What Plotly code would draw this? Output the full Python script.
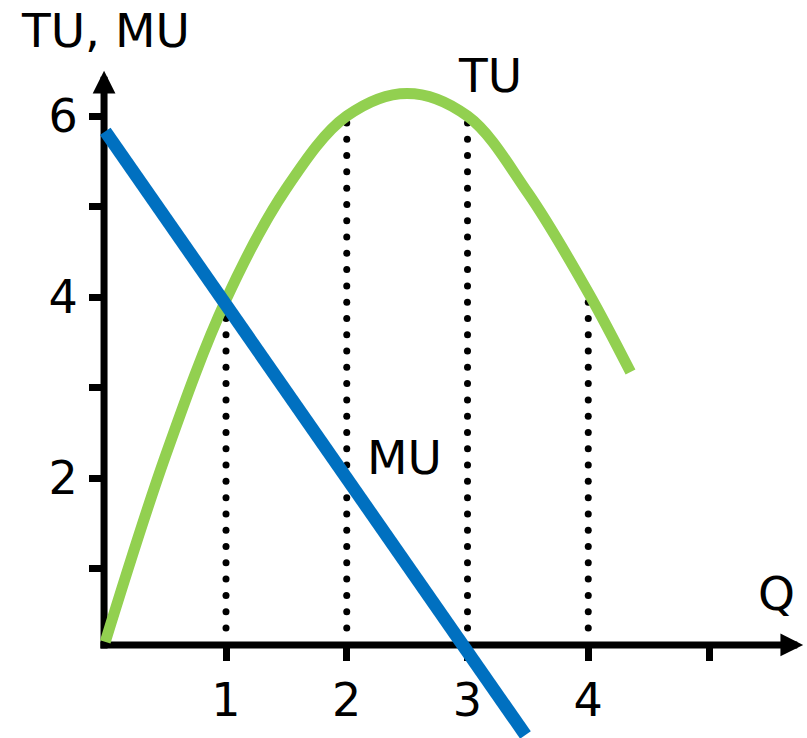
import numpy as np
import plotly.graph_objects as go

# Quantity consumed and the utility curves
tu_q = [0, 0.5, 1, 1.5, 2, 2.5, 3, 3.5, 4, 4.35]
tu_vals = [0.19, 2.25, 3.97, 5.2, 6.0, 6.25, 6.0, 5.15, 4.05, 3.17]

mu_q = [0, 1, 2, 3, 3.48]
mu_vals = [5.83, 3.92, 2.0, 0.08, -0.84]

# Guide lines dropped from the TU curve
drop_q = [1, 2, 3, 4]
drop_tu = [3.97, 6.0, 6.0, 4.05]

x_ticks = [1, 2, 3, 4, 5]
x_tick_text = ["1", "2", "3", "4", ""]
y_ticks = [1, 2, 3, 4, 5, 6]
y_tick_text = ["", "2", "", "4", "", "6"]

W, H = 807, 738
X_RANGE = [-0.8716, 5.8116]
Y_RANGE = [-0.873, 7.282]
X_AXIS_Y = 0.155      # where the horizontal axis line sits
Y_AXIS_X = -0.01      # where the vertical axis line sits

BLUE = "#0070C0"
GREEN = "#92D050"
FONT = "DejaVu Sans"

fig = go.Figure()

# dotted guides (drawn first so the curves sit on top)
dot_x, dot_y = [], []
for q, top in zip(drop_q, drop_tu):
    ys = np.arange(0.343, top - 0.05, 0.18)
    dot_x.extend([q] * len(ys))
    dot_y.extend(ys.tolist())
fig.add_trace(go.Scatter(
    x=dot_x, y=dot_y, mode="markers",
    marker=dict(color="black", size=7, line=dict(width=0)),
    hoverinfo="skip", showlegend=False,
))

fig.add_trace(go.Scatter(
    x=tu_q, y=tu_vals, mode="lines",
    line=dict(color=GREEN, width=11, shape="spline", smoothing=1.0),
    name="TU", showlegend=False,
))
fig.add_trace(go.Scatter(
    x=mu_q, y=mu_vals, mode="lines",
    line=dict(color=BLUE, width=13),
    name="MU", showlegend=False,
))

# axis lines, beneath the curves
fig.add_shape(type="line", layer="below", xref="x", yref="y",
              x0=-0.04, x1=5.6, y0=X_AXIS_Y, y1=X_AXIS_Y,
              line=dict(color="black", width=7))
fig.add_shape(type="line", layer="below", xref="x", yref="y",
              x0=Y_AXIS_X, x1=Y_AXIS_X, y0=X_AXIS_Y - 0.04, y1=6.3,
              line=dict(color="black", width=7))

# arrow heads at the axis ends
fig.add_annotation(x=5.78, y=X_AXIS_Y, xref="x", yref="y", ax=-14, ay=0,
                   text="", showarrow=True, arrowhead=2, arrowsize=0.65,
                   arrowwidth=7, arrowcolor="black")
fig.add_annotation(x=Y_AXIS_X, y=6.5, xref="x", yref="y", ax=0, ay=14,
                   text="", showarrow=True, arrowhead=2, arrowsize=0.65,
                   arrowwidth=7, arrowcolor="black")

label_font = dict(family=FONT, size=47, color="black")
fig.add_annotation(x=0, y=6.95, text="TU, MU", showarrow=False,
                   font=label_font, xanchor="center", yanchor="middle")
fig.add_annotation(x=3.19, y=6.45, text="TU", showarrow=False,
                   font=label_font, xanchor="center", yanchor="middle")
fig.add_annotation(x=2.48, y=2.23, text="MU", showarrow=False,
                   font=label_font, xanchor="center", yanchor="middle")
fig.add_annotation(x=5.56, y=0.72, text="Q", showarrow=False,
                   font=label_font, xanchor="center", yanchor="middle")

x_pos = (X_AXIS_Y - Y_RANGE[0]) / (Y_RANGE[1] - Y_RANGE[0])
y_pos = (Y_AXIS_X - X_RANGE[0]) / (X_RANGE[1] - X_RANGE[0])

fig.update_layout(
    width=W, height=H,
    margin=dict(l=0, r=0, t=0, b=0),
    paper_bgcolor="white", plot_bgcolor="white",
    xaxis=dict(range=X_RANGE, anchor="free", position=x_pos,
               showline=False, showgrid=False, zeroline=False,
               tickmode="array", tickvals=x_ticks, ticktext=x_tick_text,
               ticks="outside", ticklen=15, tickwidth=7, tickcolor="black",
               tickfont=dict(family=FONT, size=46, color="black"),
               ticklabelstandoff=0, layer="below traces"),
    yaxis=dict(range=Y_RANGE, anchor="free", position=y_pos,
               showline=False, showgrid=False, zeroline=False,
               tickmode="array", tickvals=y_ticks, ticktext=y_tick_text,
               ticks="outside", ticklen=15, tickwidth=7, tickcolor="black",
               tickfont=dict(family=FONT, size=46, color="black"),
               ticklabelstandoff=2, layer="below traces"),
    showlegend=False,
)

fig.write_html("out.html")
